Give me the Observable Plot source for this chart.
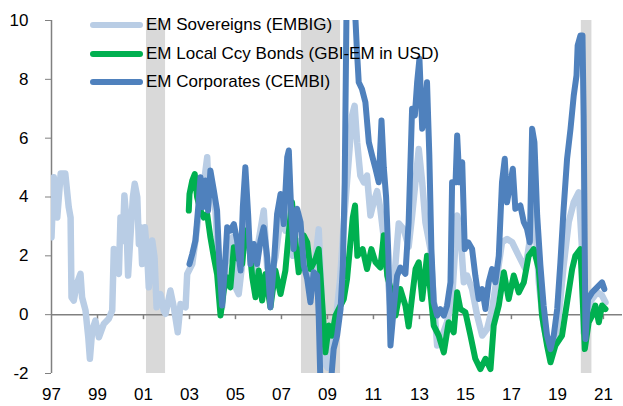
<!DOCTYPE html>
<html>
<head>
<meta charset="utf-8">
<script src="https://cdn.jsdelivr.net/npm/d3@7"></script>
<script src="https://cdn.jsdelivr.net/npm/@observablehq/plot@0.6"></script>
<style>
  html, body { margin: 0; padding: 0; background: #fff; }
  #wrap { position: relative; width: 623px; height: 406px; font-family: "Liberation Sans", Arial, sans-serif; }
  #legend { position: absolute; left: 90px; top: 11px; font-size: 17px; color: #000; }
  .row { display: flex; align-items: center; height: 28.5px; }
  .sw { width: 53px; height: 6px; border-radius: 3px; margin-right: 3px; }
</style>
</head>
<body>
<div id="wrap"><div id="legend"></div></div>
<script>
// ---- data ----
const seriesNames = ["EM Sovereigns (EMBIG)", "EM Local Ccy Bonds (GBI-EM in USD)", "EM Corporates (CEMBI)"];
const seriesColors = ["#B9CDE5", "#00B050", "#4F81BD"];

const embigYears = [1997.0,1997.1,1997.25,1997.4,1997.6,1997.75,1997.83,1997.87,1997.97,1998.1,1998.26,1998.33,1998.48,1998.6,1998.67,1998.77,1998.91,1999.06,1999.27,1999.49,1999.64,1999.71,1999.81,1999.93,2000.0,2000.1,2000.17,2000.25,2000.33,2000.43,2000.54,2000.62,2000.73,2000.8,2000.87,2000.94,2001.06,2001.16,2001.23,2001.38,2001.48,2001.57,2001.74,2001.88,2001.96,2002.17,2002.32,2002.49,2002.61,2002.83,2002.9,2003.12,2003.26,2003.4,2003.55,2003.77,2003.84,2003.98,2004.13,2004.27,2004.42,2004.57,2004.71,2004.86,2005.0,2005.14,2005.29,2005.43,2005.58,2005.73,2005.87,2006.01,2006.23,2006.38,2006.52,2006.74,2006.96,2007.17,2007.32,2007.5,2007.7,2007.9,2008.1,2008.3,2008.5,2008.62,2008.75,2008.85,2009.0,2009.15,2009.35,2009.55,2009.7,2009.85,2010.07,2010.18,2010.29,2010.43,2010.58,2010.72,2010.87,2011.0,2011.16,2011.3,2011.45,2011.6,2011.74,2011.88,2012.1,2012.32,2012.53,2012.68,2012.97,2013.12,2013.26,2013.48,2013.62,2013.77,2013.99,2014.2,2014.42,2014.64,2014.78,2014.93,2015.07,2015.29,2015.51,2015.73,2015.94,2016.16,2016.38,2016.59,2016.81,2017.03,2017.32,2017.61,2017.83,2017.97,2018.19,2018.4,2018.62,2018.84,2019.06,2019.27,2019.49,2019.71,2019.93,2020.07,2020.14,2020.29,2020.51,2020.73,2020.94,2021.09];
const embigValues = [2.63,4.67,3.3,4.8,4.8,3.65,3.3,0.59,0.48,1.05,1.39,0.59,0.14,-0.77,-1.5,-0.54,-0.2,-0.77,-0.32,-0.14,0.14,2.23,1.5,1.39,3.3,2.5,4.05,3.3,1.33,2.63,4.0,4.45,4.0,2.4,2.97,1.72,2.97,2.06,0.93,2.52,1.95,0.25,0.7,0.14,0.03,0.82,0.25,-0.6,0.36,0.25,1.38,1.72,2.52,3.42,4.0,5.35,4.0,4.33,3.54,1.5,0.25,1.72,2.06,2.63,0.93,0.7,1.72,3.08,2.52,1.38,1.16,2.52,3.54,1.6,1.27,1.95,3.3,2.86,4.78,2.0,2.5,1.8,1.5,1.0,2.0,2.9,0.5,-1.6,-1.8,-1.2,-0.3,1.2,3.0,4.5,6.77,7.1,5.86,4.73,4.5,4.73,3.37,3.8,4.2,3.6,2.6,1.5,0.2,1.0,3.1,2.9,2.3,3.37,5.63,4.5,3.14,2.23,0.53,-1.05,-0.71,-0.26,0.53,3.37,2.8,1.1,1.33,0.87,-0.03,-0.71,-0.49,0.19,1.33,2.46,2.57,2.46,2.0,1.55,2.69,4.0,1.1,-0.37,-1.17,-1.17,-0.03,1.67,3.14,3.82,4.16,2.23,-0.6,0.19,0.53,0.76,0.65,0.42];

const gbiYears = [2002.97,2003.0,2003.12,2003.23,2003.33,2003.48,2003.62,2003.77,2003.91,2004.06,2004.2,2004.35,2004.49,2004.64,2004.78,2004.93,2005.07,2005.29,2005.43,2005.58,2005.73,2005.87,2006.01,2006.16,2006.3,2006.52,2006.74,2006.96,2007.17,2007.32,2007.46,2007.61,2007.75,2007.97,2008.12,2008.26,2008.48,2008.62,2008.77,2008.91,2009.06,2009.2,2009.35,2009.49,2009.71,2009.85,2010.0,2010.1,2010.2,2010.3,2010.53,2010.72,2010.91,2011.09,2011.3,2011.45,2011.6,2011.78,2011.96,2012.17,2012.39,2012.53,2012.68,2012.83,2012.97,2013.12,2013.33,2013.48,2013.62,2013.84,2014.06,2014.27,2014.49,2014.64,2014.78,2015.0,2015.22,2015.43,2015.65,2015.87,2016.09,2016.23,2016.45,2016.67,2016.88,2017.1,2017.32,2017.54,2017.75,2017.97,2018.19,2018.33,2018.55,2018.7,2018.91,2019.2,2019.42,2019.64,2019.78,2020.0,2020.1,2020.19,2020.36,2020.51,2020.65,2020.8,2020.94,2021.09];
const gbiValues = [3.54,4.1,4.56,4.78,4.0,3.54,3.3,3.42,2.63,1.95,1.38,-0.03,0.82,1.27,0.93,2.29,1.95,1.72,2.86,2.63,1.27,0.59,1.5,0.48,1.38,0.25,1.5,0.7,1.5,2.8,3.82,2.46,1.44,2.69,2.46,1.55,1.89,2.23,0.42,-1.28,-0.37,-0.71,-0.03,0.19,0.53,1.2,2.46,3.3,3.71,2.0,2.23,1.55,2.23,1.78,1.6,2.7,1.33,0.76,-0.03,0.87,0.31,-0.4,0.6,1.55,1.78,0.53,2.0,0.76,-0.37,-0.71,-1.28,-0.26,-0.6,0.76,0.19,0.08,-0.71,-1.5,-1.85,-1.5,-1.85,-0.37,0.31,1.44,0.53,1.33,0.76,1.1,2.0,2.23,1.55,-0.03,-1.05,-1.62,-1.05,-0.71,0.42,1.55,2.0,2.23,0.53,-1.17,-0.26,-0.03,0.31,-0.26,0.31,0.19];

const cembiYears = [2003.0,2003.12,2003.26,2003.38,2003.48,2003.58,2003.7,2003.81,2003.91,2004.06,2004.2,2004.3,2004.42,2004.53,2004.64,2004.78,2004.93,2005.07,2005.22,2005.32,2005.43,2005.55,2005.65,2005.8,2005.94,2006.09,2006.23,2006.38,2006.52,2006.67,2006.81,2006.96,2007.1,2007.25,2007.32,2007.43,2007.53,2007.68,2007.83,2007.97,2008.12,2008.26,2008.4,2008.55,2008.62,2008.7,2008.91,2009.13,2009.27,2009.42,2009.57,2009.67,2009.75,2009.85,2010.1,2010.28,2010.36,2010.5,2010.65,2010.8,2010.94,2011.09,2011.23,2011.35,2011.45,2011.55,2011.65,2011.74,2011.88,2012.03,2012.17,2012.39,2012.53,2012.68,2012.8,2012.9,2013.0,2013.12,2013.23,2013.33,2013.43,2013.52,2013.62,2013.77,2013.91,2014.06,2014.2,2014.35,2014.42,2014.57,2014.64,2014.74,2014.86,2014.97,2015.12,2015.29,2015.43,2015.58,2015.73,2015.87,2016.01,2016.16,2016.3,2016.45,2016.59,2016.71,2016.81,2016.96,2017.06,2017.17,2017.39,2017.54,2017.68,2017.8,2017.9,2018.0,2018.12,2018.26,2018.4,2018.55,2018.7,2018.84,2018.99,2019.13,2019.27,2019.42,2019.57,2019.71,2019.83,2019.88,2020.0,2020.09,2020.14,2020.22,2020.33,2020.51,2020.65,2020.8,2020.94,2021.04];
const cembiValues = [1.72,2.06,2.52,3.65,4.67,3.65,4.56,3.54,4.9,4.22,3.54,1.72,0.31,1.5,2.97,2.86,3.08,2.52,1.5,3.65,5.01,3.42,1.72,2.4,1.72,2.52,2.97,1.95,0.25,1.72,3.42,4.1,3.08,5.35,5.58,3.37,2.23,3.6,3.14,1.67,1.21,0.42,1.44,1.33,-0.03,-2.5,-3.0,-2.5,-1.17,-0.71,0.19,1.67,4.5,12,12,9.0,7.9,7.67,7.22,5.86,5.41,4.96,4.5,6.6,5.0,4.0,2.0,-1.05,0.19,1.33,1.6,1.39,3.14,7.0,6.77,7.9,8.7,6.32,6.77,7.9,5.41,2.23,0.42,-0.03,0.19,-0.03,0.31,1.1,4.5,4.5,6.09,4.5,5.18,2.23,2.46,2.23,1.33,0.53,0.87,0.19,1.1,1.55,1.1,2.0,4.5,5.3,3.82,4.5,4.96,3.6,3.71,3.14,2.91,2.46,6.32,5.86,3.37,1.67,0.31,-0.71,-1.17,-0.71,0.19,1.78,3.6,5.3,6.32,7.45,8.13,9.15,9.49,9.49,6.77,-0.83,0.53,0.76,0.87,0.99,1.1,0.87];

const recessionStart = [2001.13, 2007.87, 2020.04];
const recessionEnd = [2001.96, 2009.57, 2020.5];
const yTicks = [-2, 0, 2, 4, 6, 8, 10];
const xTicks = [1997, 1999, 2001, 2003, 2005, 2007, 2009, 2011, 2013, 2015, 2017, 2019, 2021];

// ---- build tables ----
const toRows = (xs, vs, name) => xs.map((x, i) => ({year: x, value: vs[i], series: name}));
const embig = toRows(embigYears, embigValues, seriesNames[0]);
const gbi = toRows(gbiYears, gbiValues, seriesNames[1]);
const cembi = toRows(cembiYears, cembiValues, seriesNames[2]);
const recessions = recessionStart.map((s, i) => ({start: s, end: recessionEnd[i]}));

const lineOpts = {x: "year", y: "value", strokeLinejoin: "round", strokeLinecap: "round", clip: true};
const gray = "#808080";

const chart = Plot.plot({
  width: 623,
  height: 406,
  marginLeft: 51,
  marginRight: 1,
  marginTop: 20,
  marginBottom: 33,
  style: {fontFamily: "'Liberation Sans', Arial, sans-serif", fontSize: "17px", background: "white", color: "#000"},
  x: {domain: [1997, 2021.83]},
  y: {domain: [-2, 10]},
  marks: [
    Plot.rect(recessions, {x1: "start", x2: "end", y1: yTicks[0], y2: yTicks[yTicks.length - 1], fill: "#D9D9D9"}),
    Plot.ruleY([0], {stroke: gray, strokeWidth: 1.5}),
    Plot.ruleX(xTicks.slice(1), {x: d => d, y1: 0, y2: 0, insetBottom: -5, stroke: gray, strokeWidth: 1.5}),
    Plot.ruleX([1997], {stroke: gray, strokeWidth: 1.5}),
    Plot.axisY({ticks: yTicks, tickSize: 6, tickPadding: 17, stroke: gray, fill: "#000", fontSize: 17, label: null, tickFormat: d => String(d)}),
    Plot.axisX({ticks: xTicks, tickSize: 0, tickPadding: 14, fill: "#000", fontSize: 17, label: null, tickFormat: d => String(d % 100).padStart(2, "0")}),
    Plot.line(embig, {...lineOpts, stroke: seriesColors[0], strokeWidth: 6.5}),
    Plot.line(gbi, {...lineOpts, stroke: seriesColors[1], strokeWidth: 6}),
    Plot.line(cembi, {...lineOpts, stroke: seriesColors[2], strokeWidth: 6})
  ]
});
document.getElementById("wrap").prepend(chart);

const legend = document.getElementById("legend");
seriesNames.forEach((n, i) => {
  const row = document.createElement("div");
  row.className = "row";
  const sw = document.createElement("div");
  sw.className = "sw";
  sw.style.background = seriesColors[i];
  const t = document.createElement("span");
  t.textContent = n;
  row.append(sw, t);
  legend.append(row);
});
</script>
</body>
</html>
